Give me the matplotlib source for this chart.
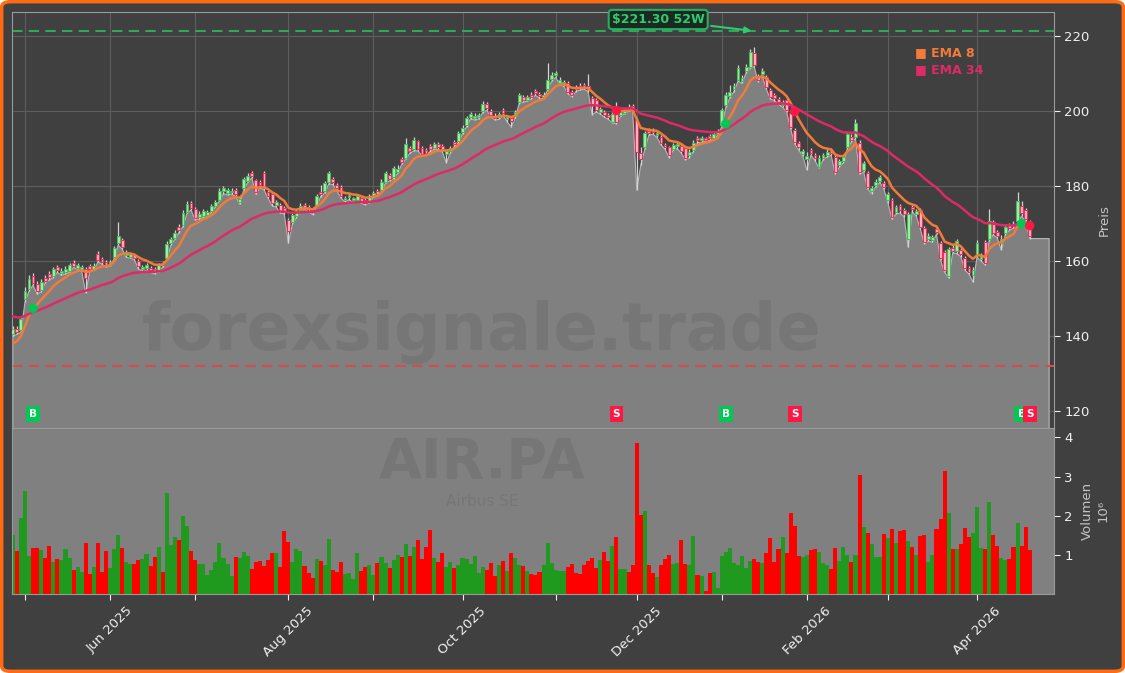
import numpy as np
import pandas as pd
import matplotlib
matplotlib.use("Agg")
import matplotlib.pyplot as plt
import matplotlib.transforms as mtransforms
from matplotlib.patches import FancyBboxPatch

# closes before the visible window, only used to seed the EMAs
warmup_closes = [
    166.0, 167.2, 168.0, 166.6, 165.8, 164.4, 163.0, 162.2, 163.4, 161.8,
    163.0, 160.4, 159.0, 157.2, 156.0, 153.8, 155.0, 157.6, 158.8, 160.2,
    161.6, 163.0, 164.2, 162.4, 161.2, 162.6, 161.8, 159.6, 158.2, 157.0,
    154.0, 156.0, 153.6, 142.0, 133.0, 127.5, 131.0, 128.0, 136.0, 133.4,
    135.6, 134.8, 132.2, 133.6, 134.0, 138.6, 137.8, 139.6,
]

opens = [
    140.6, 142.0, 141.6, 149.8, 152.6, 156.0, 154.0, 152.4, 155.6, 156.6,
    156.0, 158.4, 156.8, 157.2, 157.4, 159.6, 158.2, 157.8, 158.0, 158.6,
    158.0, 161.8, 160.6, 159.8, 159.0, 161.0, 164.8, 165.6, 161.6, 161.2,
    161.6, 160.0, 157.8, 158.2, 158.2, 157.8, 157.6, 159.4, 160.8, 164.8,
    166.2, 169.0, 169.6, 173.2, 175.4, 174.0, 171.8, 172.0, 172.2, 173.4,
    174.8, 176.4, 178.6, 178.2, 178.4, 179.0, 175.8, 179.4, 181.4, 183.4,
    181.6, 181.0, 183.4, 178.4, 177.8, 175.0, 175.0, 174.2, 171.0, 170.4,
    172.0, 173.6, 175.0, 174.4, 173.6, 175.0, 178.4, 178.6, 181.0, 181.8,
    180.2, 179.8, 176.2, 177.0, 176.2, 176.4, 176.8, 176.2, 176.0, 177.4,
    178.6, 179.0, 181.2, 183.0, 182.4, 183.8, 187.2, 187.6, 190.2, 189.8,
    192.0, 190.2, 189.6, 190.6, 190.2, 191.2, 190.6, 188.6, 189.4, 191.8,
    192.0, 194.4, 196.2, 198.4, 198.2, 198.4, 200.0, 201.8, 200.0, 198.8,
    198.4, 200.2, 197.8, 198.2, 198.6, 202.4, 203.8, 203.0, 204.4, 205.4,
    204.6, 203.8, 206.0, 208.6, 209.6, 207.6, 207.2, 207.6, 205.0, 206.4,
    206.8, 207.0, 206.6, 203.4, 203.0, 199.8, 199.8, 199.0, 197.2, 199.4,
    199.0, 199.6, 201.2, 201.4, 197.6, 188.8, 190.4, 194.8, 195.0, 193.6,
    193.0, 191.0, 190.4, 190.0, 190.6, 190.6, 190.2, 188.2, 189.6, 192.8,
    192.2, 192.8, 193.4, 192.8, 194.0, 196.2, 201.6, 204.0, 205.8, 208.4,
    208.0, 210.6, 211.8, 215.4, 209.4, 209.8, 209.0, 205.6, 204.2, 203.2,
    201.6, 203.0, 199.5, 195.0, 191.4, 188.6, 187.2, 189.6, 188.2, 185.2,
    187.6, 188.4, 189.6, 187.7, 185.6, 186.8, 190.4, 193.2, 193.0, 191.5,
    184.4, 183.4, 178.6, 180.4, 181.4, 180.8, 176.2, 176.3, 173.2, 174.6,
    173.6, 165.8, 174.4, 172.6, 173.6, 168.8, 166.0, 165.6, 168.6, 164.8,
    162.4, 156.0, 163.6, 162.6, 163.0, 160.8, 158.2, 156.4, 161.6, 160.6,
    165.0, 166.0, 170.4, 167.8, 164.8, 167.6, 169.6, 170.0, 170.8, 174.6,
    173.6, 170.4,
]

highs = [
    142.6, 142.8, 145.2, 153.0, 156.2, 156.8, 154.6, 155.2, 156.3, 157.3,
    158.4, 159.0, 158.1, 158.7, 159.6, 160.2, 159.5, 158.9, 158.4, 159.2,
    159.4, 162.6, 161.2, 160.3, 160.4, 163.9, 170.4, 166.2, 163.0, 162.4,
    162.0, 160.5, 159.0, 159.5, 158.7, 158.3, 159.6, 160.0, 165.3, 166.4,
    168.2, 169.8, 173.6, 175.9, 176.0, 174.4, 173.4, 173.9, 173.6, 175.1,
    176.4, 179.4, 180.0, 179.6, 179.4, 179.5, 177.2, 182.3, 183.4, 184.0,
    182.0, 181.6, 184.0, 178.9, 178.2, 176.4, 175.5, 174.8, 171.6, 172.8,
    174.0, 175.4, 175.6, 175.0, 174.0, 177.9, 180.2, 181.4, 183.9, 182.4,
    180.8, 180.2, 177.4, 178.2, 177.2, 178.0, 177.2, 176.8, 177.8, 178.8,
    179.2, 181.8, 184.0, 183.6, 185.4, 185.6, 187.8, 192.8, 190.8, 193.0,
    192.4, 190.6, 190.2, 191.2, 191.8, 191.8, 191.2, 190.0, 190.8, 192.4,
    194.8, 196.2, 198.8, 199.8, 199.6, 199.5, 202.6, 202.4, 200.6, 199.4,
    199.8, 200.8, 199.0, 198.8, 200.4, 204.8, 204.4, 204.4, 205.0, 206.0,
    205.2, 205.0, 212.8, 210.4, 210.8, 209.2, 208.4, 208.0, 205.6, 207.0,
    207.4, 207.6, 210.0, 204.0, 203.4, 201.2, 200.4, 199.6, 199.8, 202.4,
    200.4, 200.8, 201.8, 202.0, 198.2, 190.4, 194.8, 195.6, 195.6, 194.8,
    193.6, 191.6, 190.8, 191.6, 191.8, 191.2, 190.6, 189.8, 192.2, 193.4,
    193.4, 193.2, 194.0, 194.4, 195.2, 200.8, 205.0, 207.0, 207.6, 212.2,
    209.6, 212.6, 216.6, 217.0, 210.0, 211.4, 209.6, 206.2, 204.8, 203.8,
    203.0, 203.6, 200.0, 195.6, 192.0, 190.0, 189.2, 190.2, 188.8, 188.2,
    188.8, 189.8, 190.2, 188.2, 187.2, 188.4, 194.4, 193.8, 198.0, 192.2,
    186.8, 184.0, 180.0, 181.8, 183.0, 181.4, 178.4, 176.8, 175.0, 175.2,
    174.2, 173.2, 175.0, 174.0, 174.2, 169.4, 167.4, 167.0, 169.2, 165.4,
    163.0, 163.8, 164.2, 166.0, 163.6, 161.4, 158.8, 158.4, 165.6, 162.2,
    165.6, 174.0, 171.0, 168.4, 167.0, 169.8, 170.2, 170.6, 178.4, 176.0,
    174.2, 171.0,
]

lows = [
    139.9, 140.5, 141.0, 149.0, 152.0, 153.6, 151.2, 151.8, 154.2, 155.0,
    155.6, 157.0, 156.2, 156.6, 157.0, 158.3, 157.8, 157.3, 151.6, 157.3,
    157.6, 159.8, 159.2, 158.4, 158.6, 160.6, 164.2, 163.2, 161.0, 160.8,
    160.4, 158.0, 157.2, 157.6, 157.0, 156.6, 157.2, 158.4, 160.4, 164.2,
    165.8, 167.6, 169.2, 172.8, 173.6, 171.0, 171.2, 171.6, 171.8, 173.0,
    174.4, 176.0, 178.0, 177.6, 177.9, 177.2, 175.2, 179.0, 181.0, 182.2,
    177.8, 179.6, 179.0, 176.8, 174.8, 174.4, 172.8, 172.6, 164.8, 169.8,
    171.6, 173.2, 173.8, 173.2, 172.4, 174.6, 177.2, 178.2, 180.6, 180.4,
    178.8, 176.8, 175.8, 176.4, 175.6, 176.0, 175.4, 175.0, 175.6, 177.0,
    177.4, 178.6, 180.8, 181.4, 182.0, 183.4, 185.8, 187.2, 188.8, 189.4,
    189.4, 188.0, 188.2, 189.2, 189.8, 189.8, 189.2, 186.2, 188.8, 190.6,
    191.6, 194.0, 195.8, 198.0, 197.6, 197.9, 199.6, 200.2, 198.4, 197.6,
    197.8, 198.8, 197.2, 195.8, 198.2, 202.0, 202.4, 202.6, 203.2, 204.2,
    203.4, 203.2, 205.6, 208.0, 209.0, 207.0, 206.6, 204.6, 203.8, 205.2,
    205.6, 205.8, 205.2, 199.0, 199.8, 199.2, 198.4, 197.8, 196.8, 196.6,
    198.6, 199.2, 200.0, 200.2, 178.9, 185.6, 189.8, 193.6, 193.8, 193.0,
    191.0, 189.8, 187.6, 189.6, 190.0, 188.8, 187.0, 187.6, 189.2, 191.6,
    191.6, 192.0, 192.2, 192.4, 193.6, 195.8, 201.0, 203.6, 205.2, 208.0,
    207.4, 210.2, 211.4, 211.8, 207.8, 209.4, 205.8, 203.2, 202.8, 201.8,
    201.0, 199.8, 195.2, 191.2, 189.6, 188.0, 184.3, 188.2, 186.8, 184.8,
    187.0, 187.8, 188.2, 183.2, 185.0, 186.2, 190.0, 191.8, 192.6, 183.2,
    183.8, 179.2, 178.0, 179.8, 181.0, 179.2, 175.6, 171.2, 172.6, 172.8,
    171.8, 163.7, 173.2, 172.0, 168.6, 164.6, 165.4, 165.0, 167.2, 160.2,
    157.0, 155.5, 162.2, 162.0, 161.2, 157.6, 156.6, 154.4, 161.0, 160.0,
    159.0, 165.4, 167.0, 166.2, 162.9, 167.0, 168.2, 168.8, 170.2, 172.0,
    170.6, 166.0,
]

closes = [
    141.8, 141.2, 144.6, 152.0, 155.2, 154.2, 152.0, 154.4, 154.8, 155.8,
    157.8, 157.6, 157.4, 158.0, 159.0, 158.8, 158.9, 158.3, 155.4, 157.8,
    158.8, 160.4, 159.8, 158.9, 159.8, 163.4, 166.8, 163.8, 162.4, 161.8,
    160.9, 158.6, 158.4, 158.9, 157.6, 157.2, 159.0, 158.9, 164.6, 165.8,
    167.6, 168.2, 172.9, 175.2, 174.2, 171.6, 172.6, 173.4, 173.0, 174.6,
    175.8, 178.8, 179.4, 178.9, 178.8, 177.8, 176.6, 181.8, 182.8, 182.8,
    178.4, 180.2, 179.6, 177.4, 175.4, 175.8, 173.4, 173.4, 168.0, 172.2,
    173.4, 174.8, 174.4, 173.8, 173.0, 177.4, 177.8, 180.8, 183.4, 181.0,
    179.4, 177.4, 176.8, 177.6, 176.7, 177.4, 176.0, 175.6, 177.2, 178.2,
    177.9, 181.2, 183.4, 182.0, 184.8, 184.6, 186.4, 191.2, 189.4, 192.4,
    190.0, 188.6, 188.8, 189.8, 191.2, 190.4, 189.8, 189.4, 190.2, 191.2,
    194.2, 195.6, 198.2, 199.2, 198.8, 198.9, 201.8, 200.8, 199.0, 198.2,
    199.2, 199.4, 198.4, 197.4, 199.8, 204.2, 203.0, 203.8, 203.8, 204.8,
    204.0, 204.4, 208.4, 209.6, 210.2, 208.4, 207.8, 205.2, 204.4, 205.8,
    206.2, 206.4, 205.8, 201.6, 200.4, 200.6, 199.0, 198.4, 199.2, 197.2,
    199.8, 200.2, 200.6, 200.8, 189.2, 187.2, 194.2, 194.2, 194.4, 194.2,
    191.6, 190.4, 188.4, 191.0, 191.2, 189.4, 187.6, 189.2, 191.6, 192.2,
    192.8, 192.4, 192.8, 193.8, 194.6, 200.2, 204.2, 205.0, 206.8, 211.6,
    208.8, 211.8, 215.8, 212.4, 208.4, 210.8, 206.4, 203.8, 203.4, 202.4,
    202.4, 200.4, 195.8, 191.8, 190.4, 189.4, 188.0, 188.8, 187.4, 187.6,
    188.2, 189.2, 188.8, 183.8, 186.6, 187.8, 193.8, 192.4, 196.8, 183.8,
    186.2, 179.8, 179.4, 181.2, 182.4, 179.8, 177.8, 171.8, 174.4, 173.6,
    172.6, 172.6, 173.8, 173.4, 169.2, 165.2, 166.8, 166.4, 167.8, 160.8,
    157.6, 163.2, 162.8, 165.4, 161.8, 158.2, 157.2, 157.6, 164.8, 161.4,
    159.6, 170.6, 167.6, 166.8, 166.0, 169.2, 168.8, 169.4, 176.0, 172.8,
    171.2, 166.6,
]

# volume in millions
volumes = [
    1.51, 1.10, 1.94, 2.64, 0.97, 1.18, 1.18, 1.13, 0.92, 1.23,
    0.82, 0.90, 0.87, 1.15, 0.92, 0.62, 0.69, 0.56, 1.31, 0.51,
    0.69, 1.31, 0.56, 1.10, 0.67, 1.15, 1.51, 1.18, 0.82, 0.77,
    0.77, 0.87, 0.90, 1.03, 0.72, 0.95, 1.21, 0.56, 2.59, 1.26,
    1.46, 1.38, 2.00, 1.74, 1.10, 0.87, 0.77, 0.77, 0.49, 0.62,
    0.82, 1.31, 0.92, 0.77, 0.46, 0.95, 0.92, 1.08, 0.97, 0.64,
    0.82, 0.85, 0.72, 0.87, 1.05, 1.05, 0.69, 1.62, 1.33, 0.82,
    1.15, 1.10, 0.72, 0.54, 0.41, 0.90, 0.85, 0.74, 1.41, 0.62,
    0.56, 0.82, 0.51, 0.54, 0.38, 1.05, 0.59, 0.69, 0.74, 0.49,
    0.79, 0.95, 0.79, 0.67, 0.87, 1.00, 0.95, 1.28, 0.97, 1.21,
    1.38, 0.90, 1.21, 1.64, 0.92, 0.82, 1.05, 0.69, 0.82, 0.67,
    0.74, 0.92, 0.90, 0.77, 0.97, 0.54, 0.69, 0.62, 0.79, 0.46,
    0.74, 0.85, 0.59, 1.05, 0.92, 0.74, 0.72, 0.59, 0.51, 0.49,
    0.56, 0.74, 1.31, 0.79, 0.62, 0.59, 0.59, 0.69, 0.77, 0.54,
    0.51, 0.74, 0.85, 0.92, 0.67, 0.87, 1.08, 0.85, 1.23, 1.46,
    0.64, 0.64, 0.56, 0.74, 3.85, 2.03, 2.13, 0.74, 0.54, 0.44,
    0.74, 0.90, 1.00, 0.77, 0.79, 1.38, 0.77, 0.74, 1.49, 0.49,
    0.46, 0.08, 0.54, 0.56, 0.15, 0.97, 1.08, 1.17, 0.79, 0.74,
    0.97, 0.67, 0.85, 0.90, 0.82, 0.79, 1.05, 1.44, 0.82, 1.15,
    1.46, 1.05, 2.08, 1.74, 0.97, 0.95, 1.00, 1.13, 1.15, 1.08,
    0.79, 0.74, 0.64, 1.18, 0.85, 1.21, 1.00, 0.82, 1.00, 3.05,
    1.72, 1.56, 1.28, 0.95, 0.95, 1.54, 1.44, 1.67, 1.31, 1.62,
    1.64, 1.36, 1.21, 1.00, 1.49, 1.51, 0.82, 1.00, 1.67, 1.92,
    3.13, 2.08, 1.15, 1.15, 1.28, 1.69, 1.46, 1.56, 2.21, 1.18,
    1.15, 2.36, 1.51, 1.23, 0.92, 0.87, 0.90, 1.21, 1.82, 1.23,
    1.72, 1.13,
]

HIGH_52W = 221.30
LOW_52W = 132.0
buy_signals = [5, 176, 249]
sell_signals = [149, 193, 251]

holidays = pd.to_datetime(["2025-05-01", "2025-12-25", "2025-12-26",
                           "2026-01-01", "2026-04-03", "2026-04-06"])
dates = pd.bdate_range("2025-04-28", "2026-04-22")
dates = dates[~dates.isin(holidays)]

o = np.array(opens)
h = np.array(highs)
l = np.array(lows)
c = np.array(closes)
v = np.array(volumes)
n = len(c)
idx = np.arange(n)
up = c >= o

hist = pd.Series(warmup_closes + closes)
ema8 = hist.ewm(span=8, adjust=False).mean().to_numpy()[len(warmup_closes):]
ema34 = hist.ewm(span=34, adjust=False).mean().to_numpy()[len(warmup_closes):]

BG = "#404040"
GRAY = "#808080"
ORANGE = "#f27a3a"
CRIMSON = "#de2a66"
TXT = "#f0f0f0"

W, H = 1125, 673
fig = plt.figure(figsize=(W / 100, H / 100), dpi=100, facecolor="white")
fig.add_artist(FancyBboxPatch((0.0015, 0.0025), 0.997, 0.995,
                              boxstyle="round,pad=0,rounding_size=0.008",
                              transform=fig.transFigure, facecolor=BG,
                              edgecolor="#ff6a13", linewidth=2.5, zorder=-10))

ax = fig.add_axes([12 / W, 1 - 428 / H, 1042 / W, 416 / H])
axv = fig.add_axes([12 / W, 1 - 594 / H, 1042 / W, 166 / H], sharex=ax)
ax.set_facecolor(BG)
axv.set_facecolor(GRAY)

# price area (under the lows), held flat a few bars past the end
xf = np.append(idx, n - 1 + 4.8)
yf = np.append(l, l[-1])
ax.fill_between(xf, 0, yf, facecolor=GRAY, edgecolor="#b8b8b8", linewidth=0.8, zorder=1)

ax.axhline(HIGH_52W, color="#2ea85a", linestyle=(0, (5, 3)), linewidth=1.5, zorder=2)
ax.axhline(LOW_52W, color="#d64b4b", linestyle=(0, (5, 3)), linewidth=1.5, zorder=2)

# candles
ax.vlines(idx, l, h, color="#d4d4d4", linewidth=0.9, zorder=3)
body_lo = np.minimum(o, c)
body_h = np.maximum(np.abs(c - o), 0.15)
ax.bar(idx, body_h, bottom=body_lo, width=0.7,
       color=["#a8eca8" if u else "#ffb8c8" for u in up],
       edgecolor=["#48b85a" if u else "#e8345a" for u in up],
       linewidth=0.8, zorder=4)

ax.plot(idx, ema8, color=ORANGE, linewidth=1.8, zorder=5)
ax.plot(idx, ema34, color=CRIMSON, linewidth=1.8, zorder=5)

ax.scatter(buy_signals, ema8[buy_signals], s=45, color="#00c853", edgecolors="none", zorder=6)
ax.scatter(sell_signals, ema8[sell_signals], s=45, color="#ff1744", edgecolors="none", zorder=6)

trans = mtransforms.blended_transform_factory(ax.transData, ax.transAxes)
for i in buy_signals:
    ax.text(i, 0.034, "B", transform=trans, ha="center", va="center", color="white",
            fontsize=7.5, fontweight="bold", zorder=7,
            bbox=dict(boxstyle="square,pad=0.3", fc="#00c853", ec="none"))
for i in sell_signals:
    ax.text(i, 0.034, "S", transform=trans, ha="center", va="center", color="white",
            fontsize=7.5, fontweight="bold", zorder=7,
            bbox=dict(boxstyle="square,pad=0.3", fc="#ff1744", ec="none"))

ax.text(0.8666, 0.9014, "■ EMA 8", transform=ax.transAxes, color=ORANGE,
        fontsize=9, fontweight="bold", va="center", zorder=7)
ax.text(0.8666, 0.8606, "■ EMA 34", transform=ax.transAxes, color=CRIMSON,
        fontsize=9, fontweight="bold", va="center", zorder=7)

ihi = int(np.argmax(h))
ax.annotate(r"\$221.30 52W", xy=(ihi, HIGH_52W), xytext=(159.3, 224.4),
            ha="center", va="center", color="#2ecc71", fontsize=9, fontweight="bold",
            bbox=dict(boxstyle="round,pad=0.25", fc="#1b2a21", ec="#27ae60", lw=1.5),
            arrowprops=dict(arrowstyle="-|>", color="#2ecc71", lw=1.5),
            annotation_clip=False, zorder=10)

# watermarks
ax.text(482 / W, 1 - 350 / H, "forexsignale.trade", transform=fig.transFigure,
        fontsize=47, fontweight="bold", color="black", alpha=0.07,
        ha="center", va="baseline", zorder=1.5)
axv.text(482 / W, 1 - 478 / H, "AIR.PA", transform=fig.transFigure,
         fontsize=40, fontweight="bold", color="black", alpha=0.07,
         ha="center", va="baseline", zorder=1)
axv.text(482 / W, 1 - 506 / H, "Airbus SE", transform=fig.transFigure,
         fontsize=11, color="black", alpha=0.07, ha="center", va="baseline", zorder=1)

# volume
axv.bar(idx, v, width=1.0, color=["#1f9a1f" if u else "#ff0000" for u in up],
        linewidth=0, zorder=2)
axv.set_ylim(0, 4.24)
axv.set_yticks([1, 2, 3, 4])

ax.set_ylim(115.5, 226.4)
ax.set_yticks([120, 140, 160, 180, 200, 220])

month_start = [i for i in range(1, n) if dates[i].month != dates[i - 1].month]
axv.set_xticks(month_start)
axv.set_xticklabels([dates[i].strftime("%b %Y") if dates[i].month % 2 == 0 else ""
                     for i in month_start], rotation=45)
ax.set_xlim(-0.2, 257.0)

for a in (ax, axv):
    a.yaxis.tick_right()
    a.yaxis.set_label_position("right")
    for s in a.spines.values():
        s.set_color("#9a9a9a")
        s.set_linewidth(0.8)
    a.tick_params(colors=TXT, labelsize=9.5, length=4, width=0.8)

ax.tick_params(axis="x", bottom=False, labelbottom=False)
ax.grid(True, color="#5e5e5e", linewidth=0.8)
ax.set_axisbelow(True)

ax.set_ylabel("Preis", color="#c4c4c4", fontsize=9.5, labelpad=6)
axv.set_ylabel("Volumen\n10⁶", color="#c4c4c4", fontsize=9.5, labelpad=6,
               multialignment="center")

fig.savefig("out.png", dpi=100, facecolor=fig.get_facecolor())
